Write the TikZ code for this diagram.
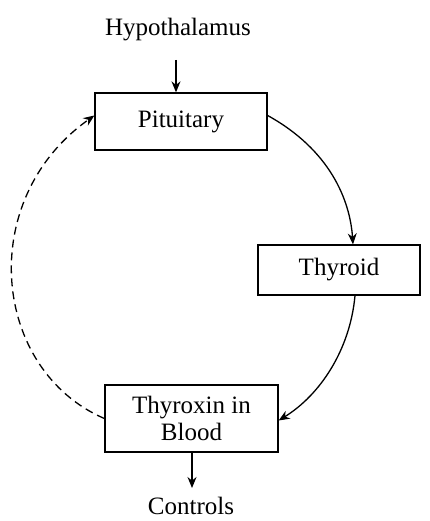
\documentclass[tikz,border=0pt]{standalone}
\usepackage{fontspec}
\setmainfont{Liberation Serif}
\usetikzlibrary{arrows.meta}
\begin{document}
\begin{tikzpicture}[x=1pt,y=-1pt,
  box/.style={draw,line width=1.3pt,inner sep=0pt,font=\fontsize{25}{27}\selectfont,align=center},
  lbl/.style={font=\fontsize{25}{27}\selectfont},
  arr/.style={line width=1.3pt,-{Stealth[length=11pt,width=9pt]}}]
\useasboundingbox (0,0) rectangle (430,521);
\node[lbl] (hyp) at (178,30) {Hypothalamus};
\node[box,minimum width=172pt,minimum height=57pt] (pit) at (181,121.5) {Pituitary};
\node[box,minimum width=162pt,minimum height=50pt] (thy) at (339,270) {Thyroid};
\node[box,minimum width=173pt,minimum height=67pt] (tib) at (191.5,418.5) {Thyroxin in\\Blood};
\node[lbl] (ctl) at (191,506) {Controls};
\coordinate (a1) at (176,60);
\coordinate (a2) at (192,488);
\draw[arr] (a1) -- (pit.north -| a1);
\draw[arr] (tib.south -| a2) -- (a2);
\draw[arr] (pit.east) ++(0,-6) .. controls (330,150) and (350,200) .. (thy.north -| 353,0);
\draw[arr] (thy.south -| 355,0) .. controls (350,350) and (320,395) .. ([yshift=-2pt]tib.east);
\draw[arr,dashed,dash pattern=on 8pt off 5pt] (tib.west) .. controls (-8,370) and (-25,200) .. ([yshift=6pt]pit.west);
\end{tikzpicture}
\end{document}
